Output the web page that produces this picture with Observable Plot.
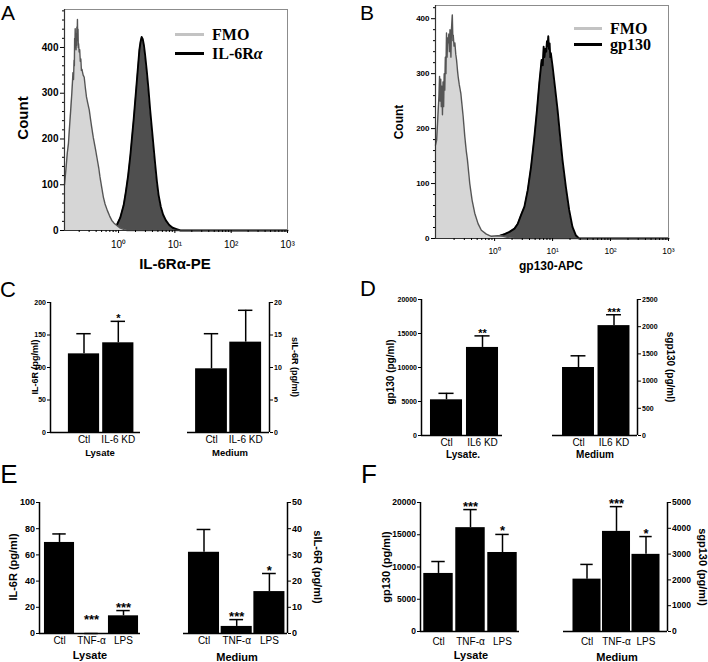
<!DOCTYPE html>
<html><head><meta charset="utf-8">
<script src="https://cdn.jsdelivr.net/npm/d3@7"></script>
<script src="https://cdn.jsdelivr.net/npm/@observablehq/plot@0.6"></script>
<style>
html,body{margin:0;padding:0;background:#fff}
#root{position:relative;width:708px;height:662px;overflow:hidden;background:#fff}
.lbl{position:absolute;white-space:nowrap;line-height:1;transform-origin:center center}
</style></head><body><div id="root"></div>
<script>
// ---------------- DATA ----------------
// Panel A histograms: log10(fluorescence), cell count
const histA_fmo_log = [-0.96,-0.93,-0.91,-0.89,-0.87,-0.85,-0.83,-0.82,-0.81,-0.80,-0.79,-0.785,-0.78,-0.775,-0.77,-0.765,-0.76,-0.755,-0.75,-0.745,-0.74,-0.735,-0.73,-0.725,-0.72,-0.715,-0.71,-0.70,-0.69,-0.68,-0.67,-0.66,-0.65,-0.63,-0.61,-0.59,-0.57,-0.55,-0.52,-0.50,-0.48,-0.45,-0.41,-0.375,-0.35,-0.33,-0.30,-0.27,-0.24,-0.20,-0.16,-0.12,-0.08,-0.03,0.02,0.06,0.10,0.15,3.0];
const histA_fmo_count = [100,140,170,190,228,263,300,321,345,330,372,360,420,400,441,410,430,395,416,405,445,420,461,415,440,400,408,390,395,370,375,350,352,340,335,312,292,280,263,245,228,204,178,153,135,117,95,73,58,44,32,22,16,11,6,4,2,0,0];
const histA_pos_log = [-0.09,-0.03,0.03,0.09,0.13,0.17,0.21,0.24,0.27,0.30,0.33,0.35,0.37,0.39,0.41,0.43,0.45,0.47,0.50,0.53,0.56,0.59,0.62,0.65,0.68,0.71,0.75,0.79,0.84,0.90,0.96,1.03,1.10,3.0];
const histA_pos_count = [0,12,28,55,85,120,165,205,245,290,335,365,395,412,423,418,405,385,350,310,265,225,185,145,108,78,52,35,22,12,6,3,0,0];
// Panel B histograms
const histB_fmo_log = [-1.02,-1.00,-0.98,-0.96,-0.95,-0.94,-0.93,-0.92,-0.91,-0.90,-0.89,-0.88,-0.87,-0.86,-0.85,-0.84,-0.83,-0.82,-0.81,-0.80,-0.79,-0.78,-0.77,-0.76,-0.754,-0.745,-0.73,-0.72,-0.714,-0.70,-0.686,-0.67,-0.657,-0.64,-0.63,-0.61,-0.583,-0.56,-0.543,-0.514,-0.49,-0.469,-0.429,-0.389,-0.343,-0.286,-0.229,-0.143,-0.057,0.057,0.15,0.25,0.35,3.0];
const histB_fmo_count = [170,179,220,260,295,250,290,240,277,225,285,240,300,270,330,300,374,330,365,356,372,340,380,350,330,380,407,360,370,350,356,335,325,305,295,280,264,240,222,185,160,143,100,70,46,27,15,8,4,5,4,1,0,0];
const histB_pos_log = [-0.11,0.057,0.171,0.257,0.343,0.40,0.457,0.514,0.571,0.629,0.686,0.731,0.771,0.811,0.83,0.846,0.86,0.874,0.89,0.903,0.915,0.926,0.938,0.949,0.96,0.971,0.985,1.0,1.04,1.086,1.131,1.171,1.229,1.286,1.343,1.40,1.457,3.0];
const histB_pos_count = [0,4,8,12,18,27,43,58,88,131,185,234,283,325,315,349,330,345,340,359,350,368,345,355,330,337,325,313,277,234,185,143,94,52,21,6,0,0];
const histXTicks = [1, 10, 100, 1000];
const histYTicks = [0, 100, 200, 300, 400];

// Bar panels
const catsC = ["Ctl", "IL-6 KD"];
const catsD = ["Ctl", "IL6 KD"];
const catsEF = ["Ctl", "TNF-α", "LPS"];
const C_lysate_mean = [121, 138], C_lysate_err = [31, 33], C_lysate_sig = ["", "*"];
const C_medium_mean = [9.8, 13.9], C_medium_err = [5.4, 4.9], C_medium_sig = ["", ""];
const D_lysate_mean = [5250, 12950], D_lysate_err = [950, 1700], D_lysate_sig = ["", "**"];
const D_medium_mean = [1250, 2020], D_medium_err = [215, 200], D_medium_sig = ["", "***"];
const E_lysate_mean = [69.5, 0, 13.5], E_lysate_err = [6.5, 0, 4], E_lysate_sig = ["", "***", "***"];
const E_medium_mean = [31, 2.7, 16], E_medium_err = [8.7, 2.6, 6.9], E_medium_sig = ["", "***", "*"];
const F_lysate_mean = [9000, 16100, 12250], F_lysate_err = [1850, 2800, 2800], F_lysate_sig = ["", "***", "*"];
const F_medium_mean = [2030, 3880, 2990], F_medium_err = [570, 960, 690], F_medium_sig = ["", "***", "*"];
const C_left_ticks = [0, 50, 100, 150, 200], C_right_ticks = [0, 5, 10, 15, 20];
const D_left_ticks = [0, 5000, 10000, 15000, 20000], D_right_ticks = [0, 500, 1000, 1500, 2000, 2500];
const E_left_ticks = [0, 20, 40, 60, 80, 100], E_right_ticks = [0, 10, 20, 30, 40, 50];
const F_left_ticks = [0, 5000, 10000, 15000, 20000], F_right_ticks = [0, 1000, 2000, 3000, 4000, 5000];

// ---------------- HELPERS ----------------
const SANS = '"Liberation Sans", Arial, sans-serif';
const SERIF = '"Liberation Serif", "Times New Roman", serif';
const root = document.getElementById("root");
const plain = d => String(d);

function place(svg, left, top) {
  svg.style.position = "absolute";
  svg.style.left = left + "px";
  svg.style.top = top + "px";
  root.appendChild(svg);
}
function label(text, cx, cy, o = {}) {
  const d = document.createElement("div");
  d.className = "lbl";
  d.style.left = cx + "px"; d.style.top = cy + "px";
  d.style.fontSize = (o.size || 10) + "px";
  d.style.fontWeight = o.weight || "bold";
  d.style.fontFamily = o.family || SANS;
  d.style.color = o.color || "#000";
  const tx = o.anchor === "start" ? "0" : "-50%";
  d.style.transform = `translate(${tx},-50%) rotate(${o.rotate || 0}deg)`;
  if (o.html) d.innerHTML = text; else d.textContent = text;
  root.appendChild(d);
}
function legendLine(x1, x2, y, color) {
  const d = document.createElement("div");
  d.style.position = "absolute";
  d.style.left = x1 + "px"; d.style.top = (y - 1.5) + "px";
  d.style.width = (x2 - x1) + "px"; d.style.height = "3px";
  d.style.background = color;
  root.appendChild(d);
}
const SUP = {"-1": "⁻¹", "0": "⁰", "1": "¹", "2": "²", "3": "³"};

function histogram(o) {
  const mL = 40, mR = 6, mT = 6, mB = 28;
  const fmo = o.fmoLog.map((v, i) => ({x: 10 ** v, c: o.fmoCount[i]}));
  const pos = o.posLog.map((v, i) => ({x: 10 ** v, c: o.posCount[i]}));
  const yMinor = d3.range(20, o.yMax, 20).filter(v => v % 100 !== 0);
  const xMinor = [];
  for (let e = -1; e <= 2; e++) for (let m = 2; m <= 9; m++) { const v = m * 10 ** e; if (v > o.lo) xMinor.push(v); }
  const svg = Plot.plot({
    width: o.R - o.L + mL + mR, height: o.B - o.T + mT + mB,
    marginLeft: mL, marginRight: mR, marginTop: mT, marginBottom: mB,
    style: {fontFamily: SANS, background: "transparent", overflow: "visible"},
    x: {type: "log", domain: [o.lo, 1000]},
    y: {domain: [0, o.yMax]},
    marks: [
      Plot.areaY(pos, {x: "x", y: "c", fill: "#4f4f4f"}),
      Plot.lineY(pos, {x: "x", y: "c", stroke: "#000", strokeWidth: 1.9}),
      Plot.areaY(fmo, {x: "x", y: "c", fill: "#d6d6d6"}),
      Plot.lineY(fmo, {x: "x", y: "c", stroke: "#555", strokeWidth: 1.4}),
      Plot.frame({stroke: "#8c8c8c"}),
      Plot.ruleY([0], {stroke: "#333", strokeWidth: 1.2}),
      Plot.ruleX([o.lo], {stroke: "#333", strokeWidth: 1.2}),
      Plot.axisY({ticks: histYTicks, tickSize: 4, tickPadding: 2, fontSize: o.yFont, fontWeight: "bold",
                  tickFormat: plain, label: null}),
      Plot.axisY({ticks: yMinor, tickSize: 2, tickFormat: () => "", label: null}),
      Plot.axisX({ticks: histXTicks, tickSize: 3, tickPadding: o.xPad, fontSize: o.xFont,
                  tickFormat: d => "10" + SUP[String(Math.round(Math.log10(d)))], label: null}),
      Plot.axisX({ticks: xMinor, tickSize: 2, tickFormat: () => "", label: null})
    ]
  });
  place(svg, o.L - mL, o.T - mT);
}

function barPanel(o) {
  const mL = 40, mR = 40, mT = 14, mB = 24;
  const data = o.cats.map((c, i) => ({i, v: o.mean[i], hi: o.mean[i] + o.err[i], s: o.sig[i]}));
  const dom = [-(o.c0 - o.x0) / o.step, (o.x1 - o.c0) / o.step];
  const axisVal = o.side === "left" ? dom[0] : dom[1];
  const bw = o.barW, cw = o.capW || 0.42;
  const svg = Plot.plot({
    width: o.x1 - o.x0 + mL + mR, height: o.bottom - o.top + mT + mB,
    marginLeft: mL, marginRight: mR, marginTop: mT, marginBottom: mB,
    style: {fontFamily: SANS, background: "transparent", overflow: "visible"},
    x: {domain: dom},
    y: {domain: [0, o.yMax]},
    marks: [
      Plot.rect(data, {x1: d => d.i - bw / 2, x2: d => d.i + bw / 2, y1: d => 0, y2: "v", fill: "#000"}),
      Plot.ruleX(data, {x: "i", y1: "v", y2: "hi", stroke: "#000", strokeWidth: 1.5}),
      Plot.ruleY(data, {y: "hi", x1: d => d.i - cw / 2, x2: d => d.i + cw / 2, stroke: "#000", strokeWidth: 1.5}),
      Plot.text(data, {x: "i", y: d => Math.max(d.hi, o.starFloor || 0), text: "s", lineAnchor: "bottom",
                       dy: 1, fontSize: o.starFont, fontWeight: "bold"}),
      Plot.ruleY([0], {stroke: "#000", strokeWidth: 1.5}),
      Plot.ruleX([axisVal], {y1: 0, y2: o.yMax, stroke: "#000", strokeWidth: 1.5}),
      Plot.axisY({anchor: o.side, ticks: o.ticks, tickSize: 3, tickPadding: 1.5, fontSize: o.tickFont,
                  fontWeight: "bold", tickFormat: plain, label: null}),
      Plot.axisX({ticks: data.map(d => d.i), tickFormat: i => o.cats[i], tickSize: 0, tickPadding: o.catPad,
                  fontSize: o.catFont, label: null})
    ]
  });
  place(svg, o.x0 - mL, o.top - mT);
}

// ---------------- PANEL A ----------------
histogram({fmoLog: histA_fmo_log, fmoCount: histA_fmo_count, posLog: histA_pos_log, posCount: histA_pos_count,
  lo: 10 ** -0.96, L: 64, R: 287, T: 9, B: 230, yMax: 483, yFont: 10, xFont: 10, xPad: 7});
label("A", 8, 12, {size: 21, weight: "normal"});
label("Count", 22, 118, {size: 15, rotate: -90});
label("IL-6Rα-PE", 175, 263, {size: 15});
legendLine(175, 204, 34, "#c3c3c3");
legendLine(175, 204, 53, "#000");
label("FMO", 212, 35, {size: 16, family: SERIF, anchor: "start"});
label("IL-6R<i>α</i>", 212, 54, {size: 16, family: SERIF, anchor: "start", html: true});

// ---------------- PANEL B ----------------
histogram({fmoLog: histB_fmo_log, fmoCount: histB_fmo_count, posLog: histB_pos_log, posCount: histB_pos_count,
  lo: 10 ** -1.02, L: 435, R: 668, T: 5, B: 238, yMax: 424, yFont: 8, xFont: 8.5, xPad: 6});
label("B", 367, 12, {size: 21, weight: "normal"});
label("Count", 399, 122, {size: 12, rotate: -90});
label("gp130-APC", 551, 266, {size: 12});
legendLine(574, 602, 28, "#c3c3c3");
legendLine(574, 602, 44, "#000");
label("FMO", 610, 29, {size: 16, family: SERIF, anchor: "start"});
label("gp130", 610, 45, {size: 16, family: SERIF, anchor: "start"});

// ---------------- PANEL C ----------------
barPanel({cats: catsC, mean: C_lysate_mean, err: C_lysate_err, sig: C_lysate_sig, yMax: 200, ticks: C_left_ticks,
  side: "left", x0: 50, x1: 140, top: 302, bottom: 432, c0: 83.5, step: 34.3, barW: 0.91,
  tickFont: 7, catFont: 10, catPad: 3.5, starFont: 11});
barPanel({cats: catsC, mean: C_medium_mean, err: C_medium_err, sig: C_medium_sig, yMax: 20, ticks: C_right_ticks,
  side: "right", x0: 187, x1: 269, top: 302, bottom: 432, c0: 211, step: 34.2, barW: 0.93,
  tickFont: 7, catFont: 10, catPad: 3.5, starFont: 11});
label("C", 8, 290, {size: 22, weight: "normal"});
label("IL-6R (pg/ml)", 35, 367, {size: 9, rotate: -90});
label("sIL-6R (pg/ml)", 294, 367, {size: 9, rotate: 90});
label("Lysate", 100, 453, {size: 9.5});
label("Medium", 230, 453, {size: 9.5});

// ---------------- PANEL D ----------------
barPanel({cats: catsD, mean: D_lysate_mean, err: D_lysate_err, sig: D_lysate_sig, yMax: 20000, ticks: D_left_ticks,
  side: "left", x0: 421, x1: 502, top: 299, bottom: 435, c0: 446, step: 36, barW: 0.89,
  tickFont: 7, catFont: 10, catPad: 3.5, starFont: 11});
barPanel({cats: catsD, mean: D_medium_mean, err: D_medium_err, sig: D_medium_sig, yMax: 2500, ticks: D_right_ticks,
  side: "right", x0: 552, x1: 637, top: 299, bottom: 435, c0: 578, step: 35.5, barW: 0.9,
  tickFont: 7, catFont: 10, catPad: 3.5, starFont: 11});
label("D", 368, 289, {size: 22, weight: "normal"});
label("gp130 (pg/ml)", 391, 372, {size: 10, rotate: -90});
label("sgp130 (pg/ml)", 670, 367, {size: 10, rotate: 90});
label("Lysate.", 463, 455, {size: 10});
label("Medium", 595, 455, {size: 10});

// ---------------- PANEL E ----------------
barPanel({cats: catsEF, mean: E_lysate_mean, err: E_lysate_err, sig: E_lysate_sig, yMax: 100, ticks: E_left_ticks,
  side: "left", x0: 39, x1: 140, top: 502, bottom: 633, c0: 59, step: 32, barW: 0.94,
  tickFont: 9, catFont: 10, catPad: 3, starFont: 13, starFloor: 8});
barPanel({cats: catsEF, mean: E_medium_mean, err: E_medium_err, sig: E_medium_sig, yMax: 50, ticks: E_right_ticks,
  side: "right", x0: 183, x1: 287, top: 502, bottom: 633, c0: 203.5, step: 32.7, barW: 0.95,
  tickFont: 9, catFont: 10, catPad: 3, starFont: 13});
label("E", 9, 474, {size: 26, weight: "normal"});
label("IL-6R (pg/ml)", 13, 567, {size: 11, rotate: -90});
label("sIL-6R (pg/ml)", 317, 567, {size: 11, rotate: 90});
label("Lysate", 90, 655, {size: 11});
label("Medium", 237, 657, {size: 11});

// ---------------- PANEL F ----------------
barPanel({cats: catsEF, mean: F_lysate_mean, err: F_lysate_err, sig: F_lysate_sig, yMax: 20000, ticks: F_left_ticks,
  side: "left", x0: 420, x1: 519, top: 502, bottom: 631, c0: 438, step: 32, barW: 0.92,
  tickFont: 8.5, catFont: 10, catPad: 6, starFont: 13});
barPanel({cats: catsEF, mean: F_medium_mean, err: F_medium_err, sig: F_medium_sig, yMax: 5000, ticks: F_right_ticks,
  side: "right", x0: 563, x1: 667, top: 502, bottom: 631, c0: 586.5, step: 29.5, barW: 0.95,
  tickFont: 8.5, catFont: 10, catPad: 6, starFont: 13});
label("F", 369, 474, {size: 26, weight: "normal"});
label("gp130 (pg/ml)", 386, 567, {size: 11, rotate: -90});
label("sgp130 (pg/ml)", 702, 567, {size: 11, rotate: 90});
label("Lysate", 471, 655, {size: 11});
label("Medium", 617, 657, {size: 11});
</script></body></html>
